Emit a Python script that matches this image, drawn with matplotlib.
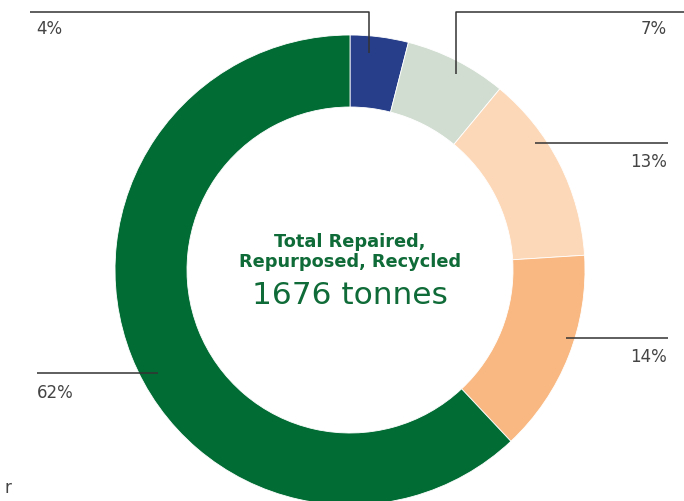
import matplotlib

matplotlib.use("Agg")
import matplotlib.pyplot as plt  # noqa: E402

# Доли (по часовой стрелке от верха)
shares = [4, 7, 13, 14, 62]
labels = ["4%", "7%", "13%", "14%", "62%"]
colors = ["#273f8a", "#d0ddd0", "#fdd8b8", "#f9b881", "#026c35"]

title_lines = "Total Repaired,\nRepurposed, Recycled"
total_text = "1676 tonnes"

W, H = 684, 501
text_green = "#0f6b37"
label_color = "#444444"
line_color = "#333333"

fig = plt.figure(figsize=(W / 100, H / 100), dpi=100)
ax = fig.add_axes([0, 0, 1, 1])


def Y(y):
    # пиксели сверху -> координаты снизу
    return H - y


ax.pie(
    shares,
    colors=colors,
    startangle=90,
    counterclock=False,
    radius=235,
    center=(350, Y(270)),
    wedgeprops={"width": 72, "edgecolor": "white", "linewidth": 0.6},
)
ax.set_xlim(0, W)
ax.set_ylim(0, H)
ax.set_aspect("equal")
ax.axis("off")

# Выноски: (ломаная в пикселях, позиция текста, выравнивание)
callouts = [
    ([(30, 12), (369, 12), (369, 53)], (36, 29), "left"),
    ([(684, 12), (456, 12), (456, 74)], (667, 29), "right"),
    ([(668, 143), (535, 143)], (667, 162), "right"),
    ([(668, 338), (566, 338)], (667, 357), "right"),
    ([(37, 373), (158, 373)], (37, 393), "left"),
]
for label, (pts, (tx, ty), ha) in zip(labels, callouts):
    xs = [p[0] for p in pts]
    ys = [Y(p[1]) for p in pts]
    ax.plot(xs, ys, color=line_color, linewidth=1.1, solid_capstyle="butt")
    ax.text(tx, Y(ty), label, ha=ha, va="center", fontsize=12,
            color=label_color)

ax.text(350, Y(252), title_lines, ha="center", va="center", fontsize=12.8,
        fontweight="bold", color=text_green, linespacing=1.12)
ax.text(350, Y(295), total_text, ha="center", va="center", fontsize=22.5,
        color=text_green)

# обрезанная подпись в левом нижнем углу
ax.text(4, Y(488), "r", ha="left", va="center", fontsize=12,
        color=label_color)

fig.savefig("out.png", dpi=100)
plt.close(fig)
